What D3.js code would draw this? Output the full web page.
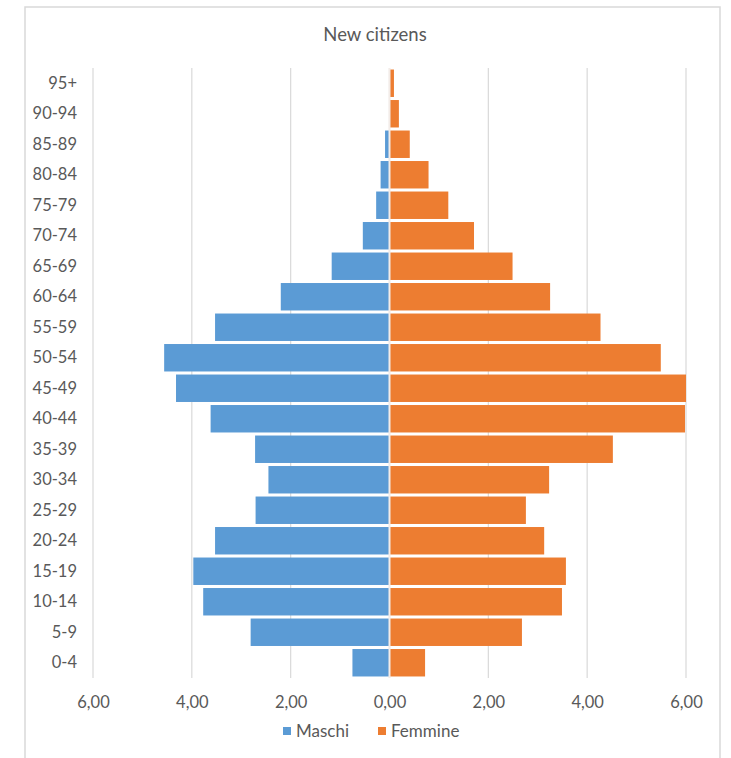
<!DOCTYPE html>
<html>
<head>
<meta charset="utf-8">
<script src="https://cdn.jsdelivr.net/npm/d3@7"></script>
<style>
  html, body { margin: 0; padding: 0; background: #ffffff; }
  svg { display: block; }
  text { font-family: Lato, "Open Sans", sans-serif; fill: #595959; }
</style>
</head>
<body>
<svg id="chart" width="731" height="758"></svg>
<script>
// Age groups, top to bottom
const ageGroups = ["95+", "90-94", "85-89", "80-84", "75-79", "70-74", "65-69", "60-64",
  "55-59", "50-54", "45-49", "40-44", "35-39", "30-34", "25-29", "20-24",
  "15-19", "10-14", "5-9", "0-4"];

// Share of new citizens (%) per age group
const maschi = [0.00, 0.00, 0.09, 0.18, 0.27, 0.54, 1.17, 2.20, 3.53, 4.56,
  4.32, 3.62, 2.72, 2.45, 2.71, 3.53, 3.97, 3.77, 2.81, 0.75];
const femmine = [0.09, 0.19, 0.41, 0.79, 1.19, 1.71, 2.49, 3.25, 4.27, 5.49,
  6.00, 5.98, 4.52, 3.23, 2.76, 3.13, 3.57, 3.49, 2.68, 0.72];

const xTicks = [-6, -4, -2, 0, 2, 4, 6];
const seriesNames = ["Maschi", "Femmine"];
const seriesColors = ["#5B9BD5", "#ED7D31"];

const svg = d3.select("#chart");

// Outer frame
svg.append("rect")
  .attr("x", 25).attr("y", 7).attr("width", 695).attr("height", 760)
  .attr("fill", "#ffffff").attr("stroke", "#d9d9d9").attr("stroke-width", 1.5);

// Title
svg.append("text")
  .attr("x", 375).attr("y", 41)
  .attr("text-anchor", "middle")
  .attr("font-size", 18.5)
  .text("New citizens");

const x = d3.scaleLinear().domain([-6, 6]).range([93, 686]);
const y = d3.scaleBand().domain(ageGroups).range([68, 678]).paddingInner(0.1).paddingOuter(0.05);

// Vertical gridlines
svg.append("g")
  .selectAll("line")
  .data(xTicks)
  .join("line")
  .attr("x1", d => x(d)).attr("x2", d => x(d))
  .attr("y1", 68).attr("y2", 678)
  .attr("stroke", "#d9d9d9").attr("stroke-width", 1.2);

// Male bars (left)
svg.append("g")
  .selectAll("rect")
  .data(ageGroups.map((g, i) => ({ g, v: maschi[i] })))
  .join("rect")
  .attr("x", d => x(-d.v))
  .attr("y", d => y(d.g))
  .attr("width", d => x(0) - x(-d.v))
  .attr("height", y.bandwidth())
  .attr("fill", seriesColors[0]);

// Female bars (right)
svg.append("g")
  .selectAll("rect")
  .data(ageGroups.map((g, i) => ({ g, v: femmine[i] })))
  .join("rect")
  .attr("x", x(0))
  .attr("y", d => y(d.g))
  .attr("width", d => x(d.v) - x(0))
  .attr("height", y.bandwidth())
  .attr("fill", seriesColors[1]);

// Central axis line
svg.append("line")
  .attr("x1", x(0)).attr("x2", x(0))
  .attr("y1", 68).attr("y2", 678)
  .attr("stroke", "#f3ece8").attr("stroke-width", 2);

// Category axis (labels only)
const yAxis = svg.append("g")
  .attr("transform", "translate(81,0)")
  .call(d3.axisLeft(y).tickSize(0).tickPadding(4));
yAxis.select(".domain").remove();
yAxis.selectAll("text")
  .attr("font-size", 16.5)
  .style("font-family", "Lato, sans-serif")
  .attr("fill", "#595959");

// Value axis (labels only)
const fmt = d => Math.abs(d).toFixed(2).replace(".", ",");
const xAxis = svg.append("g")
  .attr("transform", "translate(0,688)")
  .call(d3.axisBottom(x).tickValues(xTicks).tickFormat(fmt).tickSize(0).tickPadding(8));
xAxis.select(".domain").remove();
xAxis.selectAll("text")
  .attr("font-size", 16.5)
  .style("font-family", "Lato, sans-serif")
  .attr("fill", "#595959");

// Legend
const legend = svg.append("g").attr("transform", "translate(0,731)");
const legendItems = [
  { name: seriesNames[0], color: seriesColors[0], x: 283 },
  { name: seriesNames[1], color: seriesColors[1], x: 378 }
];
const li = legend.selectAll("g").data(legendItems).join("g")
  .attr("transform", d => `translate(${d.x},0)`);
li.append("rect")
  .attr("x", 0).attr("y", -4).attr("width", 8).attr("height", 8)
  .attr("fill", d => d.color);
li.append("text")
  .attr("x", 13).attr("y", 0)
  .attr("dy", "0.35em")
  .attr("font-size", 17)
  .text(d => d.name);
</script>
</body>
</html>
